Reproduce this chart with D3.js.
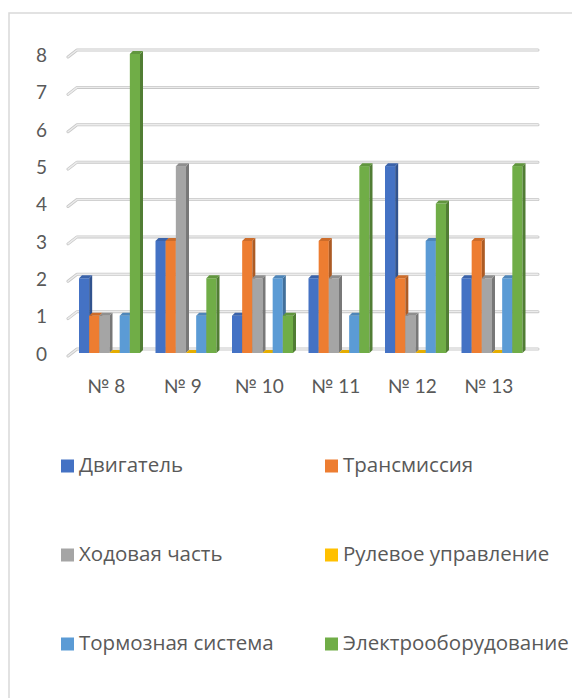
<!DOCTYPE html>
<html><head><meta charset="utf-8">
<script src="https://cdn.jsdelivr.net/npm/d3@7"></script>
<style>html,body{margin:0;padding:0;background:#fff;overflow:hidden}</style>
</head><body>
<svg id="c" width="572" height="698"></svg>
<script>
const categories = ["№ 8", "№ 9", "№ 10", "№ 11", "№ 12", "№ 13"];
const seriesNames = ["Двигатель", "Трансмиссия", "Ходовая часть", "Рулевое управление", "Тормозная система", "Электрооборудование"];
const engine = [2, 3, 1, 2, 5, 2];
const transmission = [1, 3, 3, 3, 2, 3];
const chassis = [1, 5, 2, 2, 1, 2];
const steering = [0, 0, 0, 0, 0, 0];
const brakes = [1, 1, 2, 1, 3, 2];
const electrical = [8, 2, 1, 5, 4, 5];
const yTicks = [0, 1, 2, 3, 4, 5, 6, 7, 8];
const colors = ["#4472C4", "#ED7D31", "#A5A5A5", "#FFC000", "#5B9BD5", "#70AD47"];

const seriesValues = [engine, transmission, chassis, steering, brakes, electrical];
const svg = d3.select("#c");
const font = "Lato, 'Open Sans', sans-serif";
const legFont = "'Open Sans', Lato, sans-serif";
const textCol = "#595959";

// chart border
svg.append("rect").attr("x", 9).attr("y", 13).attr("width", 600).attr("height", 720)
  .attr("fill", "#fff").attr("stroke", "#d9d9d9").attr("stroke-width", 1.5);

const x0 = d3.scaleBand().domain(categories).range([70, 529]).paddingInner(0).paddingOuter(0);
const x1 = d3.scaleBand().domain(d3.range(6)).range([9, 70]).padding(0);
const y = d3.scaleLinear().domain([0, 8]).range([353, 54]);
const dFront = 3, dBack = 4; // floor depth
const bd = 3; // bar depth

// gridlines
const g = svg.append("g");
yTicks.forEach(t => {
  const pts = [[68, y(t) + dFront], [77, y(t) - dBack], [538, y(t) - dBack]];
  g.append("path").attr("d", d3.line()(pts)).attr("fill", "none")
    .attr("stroke", "#c8c8c8").attr("stroke-width", 3).attr("stroke-linecap", "round").attr("stroke-linejoin", "round");
  g.append("path").attr("d", d3.line()(pts)).attr("fill", "none")
    .attr("stroke", "#ececec").attr("stroke-width", 1.4).attr("stroke-linecap", "round").attr("stroke-linejoin", "round");
  svg.append("text").attr("x", 47).attr("y", y(t) + 3).attr("text-anchor", "end")
    .attr("dominant-baseline", "middle").attr("font-family", font).attr("font-size", 19)
    .attr("fill", textCol).text(t);
});

// bars
const bars = svg.append("g");
categories.forEach((c, ci) => {
  seriesValues.forEach((vals, si) => {
    const v = vals[ci];
    const xl = x0(c) + x1(si);
    const w = x1.bandwidth();
    const yt = y(v), yb = y(0);
    const col = d3.color(colors[si]);
    if (v > 0) {
      bars.append("rect").attr("x", xl).attr("y", yt).attr("width", w).attr("height", yb - yt).attr("fill", colors[si]);
      bars.append("path").attr("d", d3.line()([[xl + w, yt], [xl + w + bd, yt - bd], [xl + w + bd, yb - bd], [xl + w, yb]]))
        .attr("fill", col.darker(0.9));
    }
    bars.append("path").attr("d", d3.line()([[xl, yt], [xl + bd, yt - bd], [xl + w + bd, yt - bd], [xl + w, yt]]))
      .attr("fill", v > 0 ? col.darker(0.4) : col.darker(0.3));
  });
  svg.append("text").attr("x", x0(c) + x0.bandwidth() / 2 - 2).attr("y", 388)
    .attr("text-anchor", "middle").attr("dominant-baseline", "middle")
    .attr("font-family", font).attr("font-size", 19).attr("fill", textCol).text(c);
});

// legend
const legPos = [[61, 466], [325, 466], [61, 555], [325, 555], [61, 644], [325, 644]];
seriesNames.forEach((n, i) => {
  const [lx, ly] = legPos[i];
  svg.append("rect").attr("x", lx).attr("y", ly - 6.5).attr("width", 13).attr("height", 13).attr("fill", colors[i]);
  svg.append("text").attr("x", lx + 18).attr("y", ly + 1).attr("dominant-baseline", "middle")
    .attr("font-family", legFont).attr("font-size", 20.5).attr("fill", textCol).text(n);
});
</script>
</body></html>
